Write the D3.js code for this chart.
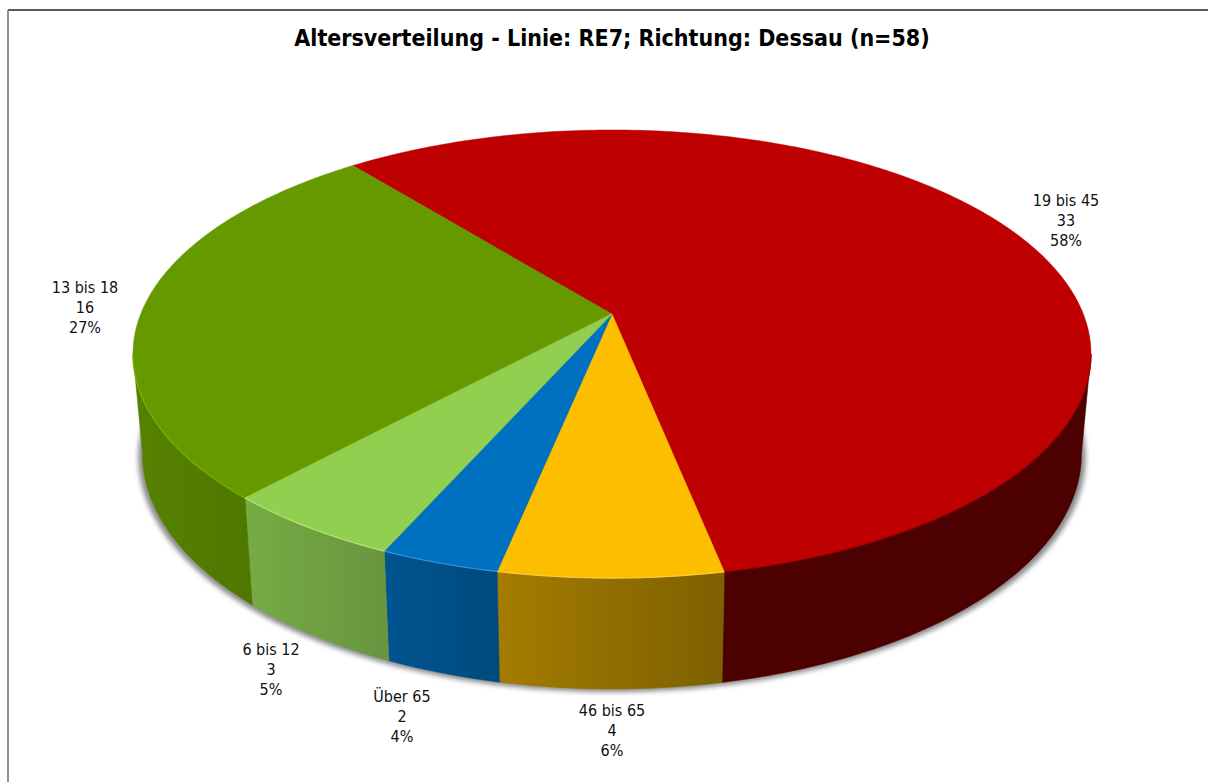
<!DOCTYPE html>
<html>
<head>
<meta charset="utf-8">
<script src="https://cdn.jsdelivr.net/npm/d3@7"></script>
<style>
  html, body { margin: 0; padding: 0; background: #fff; }
  text { font-family: "DejaVu Sans Condensed", "DejaVu Sans", sans-serif; fill: #111; }
</style>
</head>
<body>
<div id="chart"></div>
<script>
var categories = ['19 bis 45', '46 bis 65', 'Über 65', '6 bis 12', '13 bis 18'];
var counts = [33, 4, 2, 3, 16];
var percents = [58, 6, 4, 5, 27];
// slice sizes as measured on the picture (percent of the circle)
var shares = [57.63, 6.37, 3.4, 5.2, 27.4];

var topColors = ['#bf0000', '#fdbe00', '#0070c0', '#90cf50', '#669900'];
var edgeColors = ['#8a0000', '#ffd24d', '#3fa0e8', '#b6ee70', '#7fb800'];
var wallLeft = ['#4c0000', '#a47c00', '#005491', '#76ac43', '#568200'];
var wallRight = ['#4c0000', '#7d6000', '#004a7e', '#699540', '#4f7800'];

var width = 1208, height = 782;
var cx = 612, cy = 314;
var persp = 0.1786, scaleX = 471.3, scaleY = 216.9;
var startAngle = -38.8 * Math.PI / 180;
var labelAnchors = [[1066, 220], [612, 730], [402, 716], [271, 669], [85, 307]];

var svg = d3.select('#chart').append('svg')
  .attr('width', width).attr('height', height).style('display', 'block');
var defs = svg.append('defs');

defs.append('filter').attr('id', 'shadow')
  .attr('x', '-5%').attr('y', '-5%').attr('width', '110%').attr('height', '110%')
  .append('feGaussianBlur').attr('stdDeviation', 2.6);

// frame
svg.append('line').attr('x1', 8).attr('y1', 10).attr('x2', width).attr('y2', 10)
  .attr('stroke', '#222').attr('stroke-width', 1.4);
svg.append('line').attr('x1', 8).attr('y1', 10).attr('x2', 8).attr('y2', height)
  .attr('stroke', '#777').attr('stroke-width', 1.6);

svg.append('text').attr('x', 612).attr('y', 46)
  .attr('text-anchor', 'middle')
  .style('font-size', '23px').style('font-weight', 'bold').style('fill', '#000')
  .text('Altersverteilung - Linie: RE7; Richtung: Dessau (n=58)');

// circle seen in perspective: angle 0 is the far side, clockwise like d3.pie
var topPoint = function(a, r) {
  var u = r * Math.sin(a), v = -r * Math.cos(a);
  var w = 1 - persp * v;
  return [cx + scaleX * u / w, cy + scaleY * v / w];
};
var bottomPoint = function(a) {
  var p = topPoint(a, 1);
  return [cx + 0.98 * (p[0] - cx), 412 + 1.049 * (p[1] - cy)];
};

var sampleAngles = function(a0, a1) {
  var n = Math.max(2, Math.ceil(Math.abs(a1 - a0) * 60));
  return d3.range(n + 1).map(function(i) { return a0 + (a1 - a0) * i / n; });
};

var line = d3.line();
var arcs = d3.pie().sort(null)
  .startAngle(startAngle).endAngle(startAngle + 2 * Math.PI)(shares);

// only the part nearest the viewer shows a wall, it ends where the rim is widest
var sideAngle = Math.asin(persp);
var wallFrom = Math.PI / 2 + sideAngle;
var wallTo = 3 * Math.PI / 2 - sideAngle;

// soft shadow under the pie
var shadowPts = sampleAngles(0, 2 * Math.PI).map(function(a) {
  var p = bottomPoint(a);
  return [cx + 1.009 * (p[0] - cx), p[1] + 3];
});
svg.append('path').attr('d', line(shadowPts) + 'Z')
  .attr('fill', '#8a8a8a').attr('filter', 'url(#shadow)');

// walls
arcs.forEach(function(d, i) {
  var a0 = Math.max(d.startAngle, wallFrom);
  var a1 = Math.min(d.endAngle, wallTo);
  if (a1 <= a0) return;
  var angles = sampleAngles(a0, a1);
  var upper = angles.map(function(a) { return topPoint(a, 1); });
  var lower = angles.map(bottomPoint).reverse();
  var grad = defs.append('linearGradient').attr('id', 'wall' + i)
    .attr('gradientUnits', 'userSpaceOnUse')
    .attr('x1', d3.max(upper, function(p) { return p[0]; })).attr('y1', 0)
    .attr('x2', d3.min(upper, function(p) { return p[0]; })).attr('y2', 0);
  // the walls get darker toward the right side of each slice
  grad.append('stop').attr('offset', 0).attr('stop-color', wallRight[i]);
  grad.append('stop').attr('offset', 1).attr('stop-color', wallLeft[i]);
  svg.append('path').attr('d', line(upper.concat(lower)) + 'Z')
    .attr('fill', 'url(#wall' + i + ')')
    .attr('stroke', 'url(#wall' + i + ')').attr('stroke-width', 0.5);
});

// top faces
arcs.forEach(function(d, i) {
  var pts = sampleAngles(d.startAngle, d.endAngle).map(function(a) { return topPoint(a, 1); });
  svg.append('path').attr('d', line([[cx, cy]].concat(pts)) + 'Z')
    .attr('fill', topColors[i]).attr('stroke', topColors[i]).attr('stroke-width', 0.5);
});

// thin bevel along the front rim and between light slices
arcs.forEach(function(d, i) {
  var a0 = Math.max(d.startAngle, wallFrom);
  var a1 = Math.min(d.endAngle, wallTo);
  if (a1 <= a0) return;
  var rim = sampleAngles(a0, a1).map(function(a) { return topPoint(a, 1); });
  svg.append('path').attr('d', line(rim)).attr('fill', 'none')
    .attr('stroke', edgeColors[i]).attr('stroke-width', 1.2).attr('opacity', 0.8);
});
svg.append('path')
  .attr('d', line([[cx, cy], topPoint(arcs[4].startAngle, 1)]))
  .attr('stroke', '#a8dc60').attr('stroke-width', 0.8).attr('fill', 'none');

// data labels
arcs.forEach(function(d, i) {
  var t = svg.append('text').attr('text-anchor', 'middle')
    .style('font-size', '16px');
  [categories[i], counts[i], percents[i] + '%'].forEach(function(s, k) {
    t.append('tspan').attr('x', labelAnchors[i][0])
      .attr('y', labelAnchors[i][1] + (k - 1) * 20.4 + 6).text(s);
  });
});
</script>
</body>
</html>
